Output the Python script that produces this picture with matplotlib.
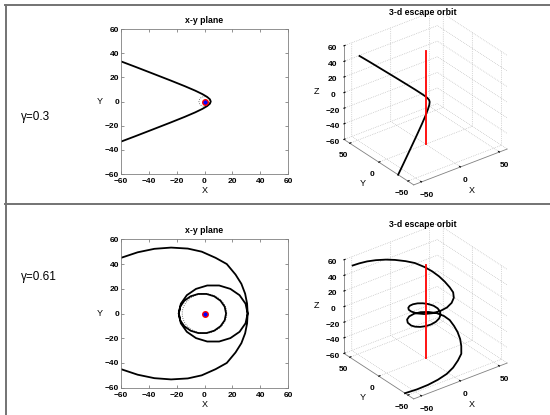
import matplotlib
matplotlib.use("Agg")
import matplotlib.pyplot as plt
from matplotlib.patches import Circle
from matplotlib.lines import Line2D

# row labels
gamma_labels = ["γ=0.3", "γ=0.61"]

# gamma = 0.3 : hyperbolic escape (lower branch -> vertex -> upper branch)
orbit1_x = [-60, -49.9, -38.9, -24.6, -14.2, -6.7, -1.5, 1.9, 3.9, 4.5,
            3.9, 1.9, -1.5, -6.7, -14.2, -24.6, -38.9, -49.9, -60]
orbit1_y = [-33.2, -28.8, -23.9, -17.5, -12.7, -9.0, -6.1, -3.8, -1.8, 0,
            1.8, 3.8, 6.1, 9.0, 12.7, 17.5, 23.9, 28.8, 33.2]
orbit1_z = [-60, -51.8, -42.8, -31.1, -22.5, -16.2, -11.7, -8.6, -6.4, -5,
            -3.3, -0.7, 2.9, 8.2, 15.6, 25.8, 39.7, 50.4, 60]

# gamma = 0.61 : two loops then escape
orbit2_x = [-60, -48, -36, -24, -12, -2, 8, 16, 22.3, 26.5, 29.2, 30.6, 31,
            29.5, 25.2, 18.6, 10.55, 1.95, -6.1, -12.7, -17.0, -18.5,
            -17.5, -14.5, -10, -4.5, 1.5, 7, 11.5, 14.5, 15.5,
            14.5, 11.5, 7, 1.5, -4.5, -10, -14.5, -17.5, -18.5,
            -17.0, -12.7, -6.1, 1.95, 10.55, 18.6, 25.2, 29.5, 31,
            30.6, 29.2, 26.5, 22.3, 16, 8, -2, -12, -24, -36, -48, -60]
orbit2_y = [-45, -49.5, -52.3, -53.3, -52.5, -50, -45, -40, -31.5, -24, -16, -8, 0,
            7.9, 14.8, 19.9, 22.65, 22.65, 19.9, 14.8, 7.9, 0,
            -5.5, -10.3, -13.9, -15.8, -15.8, -13.9, -10.3, -5.5, 0,
            5.5, 10.3, 13.9, 15.8, 15.8, 13.9, 10.3, 5.5, 0,
            -7.9, -14.8, -19.9, -22.65, -22.65, -19.9, -14.8, -7.9, 0,
            8, 16, 24, 31.5, 40, 45, 50, 52.5, 53.3, 52.3, 49.5, 45]
orbit2_z = [-60, -57.5, -55, -52.5, -50, -47, -44, -41, -37.5, -34, -30, -26.5, -23,
            -21, -19, -17.5, -16, -14.8, -13.7, -12.7, -11.8, -11,
            -10.2, -9.3, -8.3, -7.2, -6.1, -5, -4, -3, -2,
            -1, 0, 1, 2.1, 3.2, 4.3, 5.3, 6.2, 7,
            7.8, 8.7, 9.7, 10.8, 12, 13.5, 15, 17, 19,
            22.5, 26, 29.5, 33, 36.5, 39.5, 42.5, 45.5, 49, 52.5, 56, 60]

start_radius = [4, 16]          # dotted starting circle
body_z = [-60, 60]              # red line through the centre

xy_ticks = [-60, -40, -20, 0, 20, 40, 60]
xy3_ticks = [-50, 0, 50]
z_ticks = [-60, -40, -20, 0, 20, 40, 60]

plt.rcParams['font.family'] = ['Liberation Sans', 'DejaVu Sans']
plt.rcParams['font.weight'] = 'bold'

W, H = 550, 415
fig = plt.figure(figsize=(W / 100, H / 100), dpi=100)


def fx(px):
    return px / W


def fy(py):
    return 1 - py / H


# table lines
for xs, ys in [([5, 550], [5, 5]), ([5.5, 5.5], [5, 415]), ([5, 550], [204.5, 204.5])]:
    fig.add_artist(Line2D([fx(v) for v in xs], [fy(v) for v in ys],
                          color='0.45', lw=1.4, transform=fig.transFigure))


def xy_panel(left, top, right, bottom, x, y, r0):
    ax = fig.add_axes([fx(left), fy(bottom), fx(right - left), (bottom - top) / H])
    ax.plot(x, y, color='black', lw=1.3)
    ax.add_patch(Circle((0, 0), r0, fill=False, ls=':', lw=0.6, ec='0.3'))
    ax.plot([0], [0], 'o', ms=4, mfc='blue', mec='red', mew=1.0)
    ax.set_xlim(-60, 60)
    ax.set_ylim(-60, 60)
    ax.set_xticks(xy_ticks)
    ax.set_yticks(xy_ticks)
    ax.tick_params(direction='in', length=2.5, width=0.5, top=True, right=True,
                   labelsize=6, pad=1.5, color='0.4')
    ax.tick_params(axis='x', pad=3)
    for s in ax.spines.values():
        s.set_color('0.5')
        s.set_linewidth(0.6)
    ax.set_xlabel('X', fontsize=6.5, labelpad=0)
    ax.xaxis.set_label_coords(0.5, -0.08)
    ax.set_ylabel('Y', fontsize=6.5, rotation=0, va='center', ha='center')
    ax.yaxis.set_label_coords(-0.125, 0.5)
    fig.text(fx((left + right) / 2), fy(top - 8.5), 'x-y plane', fontsize=6.3,
             ha='center', va='center')
    return ax


def orbit3d_panel(cx, cy, size, x, y, z, title_y):
    ax = fig.add_axes([fx(cx - size / 2), fy(cy + size / 2), size / W, size / H],
                      projection='3d')
    ax.set_proj_type('ortho')
    ax.view_init(elev=30, azim=-127.5)
    ax.set_box_aspect((1.09, 1.06, 1))
    ax.plot(x, y, z, color='black', lw=1.3)
    ax.plot([0, 0], [0, 0], body_z, color='red', lw=1.3)
    ax.set_xlim(-60, 60)
    ax.set_ylim(-60, 60)
    ax.set_zlim(-60, 60)
    ax.set_xticks(xy3_ticks)
    ax.set_yticks(xy3_ticks)
    ax.set_zticks(z_ticks)
    for a in (ax.xaxis, ax.yaxis, ax.zaxis):
        a.set_pane_color((1, 1, 1, 0))
        a.pane.set_edgecolor('0.7')
        a.pane.set_linestyle(':')
        a.pane.set_linewidth(0.5)
        a.line.set_color('0.5')
        a.line.set_linewidth(0.6)
        a._axinfo['grid'].update(color='0.7', linestyle=':', linewidth=0.5)
        a._axinfo['tick'].update(inward_factor=0.0, outward_factor=0.15)
    ax.tick_params(labelsize=6, pad=-3)
    ax.set_xlabel('X', fontsize=6.5, labelpad=-9)
    ax.set_ylabel('Y', fontsize=6.5, labelpad=-9)
    ax.set_zlabel('Z', fontsize=6.5, labelpad=-9)
    fig.text(fx(423), fy(title_y), '3-d escape orbit', fontsize=6.3,
             ha='center', va='center')
    return ax


xy_panel(121, 29, 288, 174, orbit1_x, orbit1_y, start_radius[0])
xy_panel(121, 239.3, 288, 387.7, orbit2_x, orbit2_y, start_radius[1])

orbit3d_panel(423, 100, 191, orbit1_x, orbit1_y, orbit1_z, 12.3)
orbit3d_panel(423, 314, 191, orbit2_x, orbit2_y, orbit2_z, 224)

fig.text(fx(21), fy(116.7), gamma_labels[0], fontsize=8.5, fontweight='normal',
         ha='left', va='center')
fig.text(fx(21), fy(276.7), gamma_labels[1], fontsize=8.5, fontweight='normal',
         ha='left', va='center')

fig.savefig('out.png', dpi=100)
